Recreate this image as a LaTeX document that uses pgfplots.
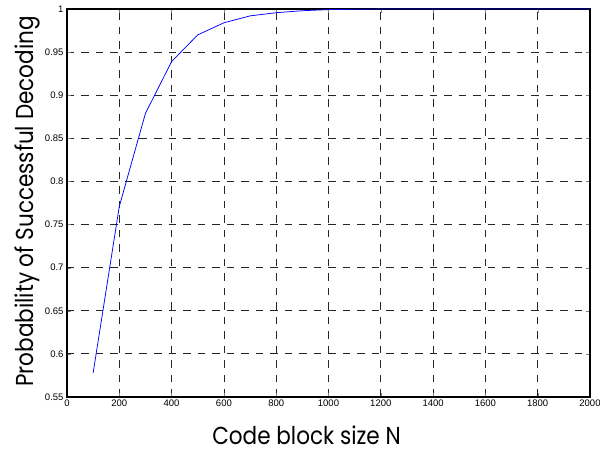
\documentclass[border=0pt]{standalone}
\usepackage{fontspec}
\setmainfont{Liberation Sans}
\newfontfamily\labelfont[FakeStretch=0.88]{Poppins}
\usepackage{pgfplots}
\pgfplotsset{compat=1.18}
\begin{document}
\begin{tikzpicture}
\begin{axis}[
  width=523pt, height=388pt, scale only axis,
  xmin=0, xmax=2000, ymin=0.55, ymax=1,
  xtick={0,200,...,2000},
  ytick={0.55,0.6,0.65,0.7,0.75,0.8,0.85,0.9,0.95,1},
  yticklabels={0.55,0.6,0.65,0.7,0.75,0.8,0.85,0.9,0.95,1},
  scaled x ticks=false,
  xticklabel style={/pgf/number format/1000 sep={}},
  /pgf/number format/assume math mode=true,
  tick label style={font=\fontsize{9.5}{11}\selectfont},
  xticklabel style={yshift=1pt},
  tick align=inside, tick pos=both,
  major tick length=4pt,
  grid=major,
  major grid style={black!85, dash pattern=on 7.5pt off 7pt, line width=0.8pt},
  axis line style={black, line width=1.1pt},
  xlabel={Code block size N},
  ylabel={Probability of Successful Decoding},
  label style={font=\labelfont\fontsize{24.5}{28}\selectfont, inner sep=0pt},
  xlabel style={at={(axis description cs:0.5,0)}, anchor=base, yshift=-48pt, xshift=-22pt},
  ylabel style={at={(axis description cs:0,0.5)}, anchor=base, yshift=33pt, xshift=1.5pt},
]
\addplot[blue, line width=0.75pt] coordinates {
(100,0.578) (200,0.771) (300,0.879) (400,0.939) (500,0.970) (600,0.984)
(700,0.992) (800,0.9957) (900,0.998) (1000,0.9993) (1100,0.9997) (1200,0.9999)
(1300,1) (1400,1) (1500,1) (1600,1) (1700,1) (1800,1) (1900,1) (2000,1)
};
\end{axis}
\pgfresetboundingbox
\path[use as bounding box] ([xshift=-67pt,yshift=-57pt]current axis.south west) rectangle ([xshift=10pt,yshift=9pt]current axis.north east);
\end{tikzpicture}
\end{document}
